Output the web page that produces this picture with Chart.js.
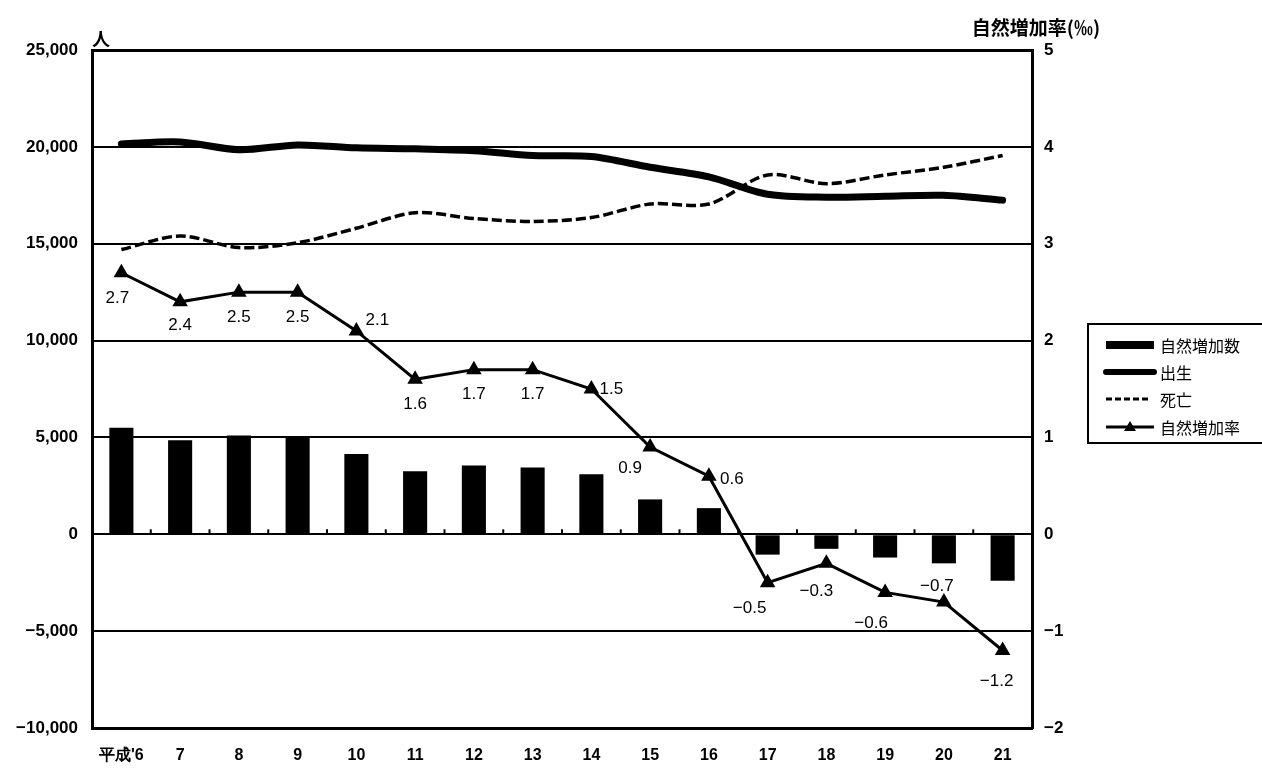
<!DOCTYPE html>
<html>
<head>
<meta charset="utf-8">
<script src="https://cdn.jsdelivr.net/npm/chart.js@4.4.1/dist/chart.umd.min.js"></script>
<style>
  html, body { margin: 0; padding: 0; background: #fff; }
  #wrap { width: 1262px; height: 769px; }
</style>
</head>
<body>
<div id="wrap"><canvas id="c" width="1262" height="769"></canvas></div>
<script>
// 年次（平成）
const years = ["平成'6", "7", "8", "9", "10", "11", "12", "13", "14", "15", "16", "17", "18", "19", "20", "21"];
// 自然増加数（人）
const naturalIncrease = [5500, 4850, 5100, 5050, 4150, 3250, 3550, 3450, 3100, 1800, 1350, -1050, -750, -1200, -1500, -2400];
// 出生（人）
const births = [20150, 20250, 19850, 20100, 19950, 19900, 19800, 19550, 19500, 18950, 18450, 17550, 17400, 17450, 17500, 17250];
// 死亡（人）
const deaths = [14700, 15400, 14800, 15050, 15800, 16600, 16300, 16150, 16350, 17050, 17050, 18550, 18100, 18550, 18950, 19550];
// 自然増加率（‰）
const naturalRate = [2.7, 2.4, 2.5, 2.5, 2.1, 1.6, 1.7, 1.7, 1.5, 0.9, 0.6, -0.5, -0.3, -0.6, -0.7, -1.2];
// 左軸・右軸の目盛
const leftTicks = [25000, 20000, 15000, 10000, 5000, 0, -5000, -10000];
const rightTicks = [5, 4, 3, 2, 1, 0, -1, -2];

// 率ラベルの置き場所（点からのずれ, px）
const rateLabelShift = [
  [-4, 26], [0, 23], [0, 25], [0, 25], [21, -11], [0, 25], [0, 25], [0, 25],
  [20, 0], [-20, 21], [23, 3], [-18, 26], [-10, 28], [-14, 31], [-7, -16], [-6, 31]
];

const minus = s => String(s).replace('-', '\u2212');
const fmtPeople = v => minus(Number(v).toLocaleString('en-US'));

const numFont = "'Liberation Sans', Arial, sans-serif";
const jpFont = "'Noto Sans CJK JP', sans-serif";

// 値ラベル・ゼロ線の目盛・凡例・軸見出しを描くプラグイン
const decorations = {
  id: 'decorations',
  afterDatasetsDraw(chart) {
    const ctx = chart.ctx;
    const x = chart.scales.x;
    const y = chart.scales.y;
    const zeroY = y.getPixelForValue(0);
    // ゼロ線上の区切り目盛
    ctx.save();
    ctx.strokeStyle = '#000';
    ctx.lineWidth = 2;
    for (let i = 1; i < years.length; i++) {
      const px = (x.getPixelForValue(i - 1) + x.getPixelForValue(i)) / 2;
      ctx.beginPath();
      ctx.moveTo(px, zeroY);
      ctx.lineTo(px, zeroY - 5);
      ctx.stroke();
    }
    ctx.restore();

    // 自然増加率の値ラベル
    const meta = chart.getDatasetMeta(3);
    ctx.save();
    ctx.fillStyle = '#000';
    ctx.font = "17px " + numFont;
    ctx.textAlign = 'center';
    ctx.textBaseline = 'middle';
    meta.data.forEach((pt, i) => {
      const [dx, dy] = rateLabelShift[i];
      ctx.fillText(minus(naturalRate[i].toFixed(1)), pt.x + dx, pt.y + dy);
    });
    ctx.restore();
  },
  afterDraw(chart) {
    const ctx = chart.ctx;
    const area = chart.chartArea;
    ctx.save();
    ctx.fillStyle = '#000';
    // 軸見出し
    ctx.font = "bold 18px " + jpFont;
    ctx.textAlign = 'center';
    ctx.textBaseline = 'middle';
    ctx.fillText('人', area.left + 9, area.top - 11);
    ctx.font = "bold 19px " + jpFont;
    ctx.fillText('自然増加率(‰)', area.right + 4, 28);

    // 凡例
    const lx = 1088, ly = 324, lw = 190, lh = 119;
    ctx.strokeStyle = '#000';
    ctx.lineWidth = 2;
    ctx.strokeRect(lx, ly, lw, lh);
    const rows = [345, 372, 399, 427];
    const sx0 = 1106, sx1 = 1154;
    ctx.font = "16px " + jpFont;
    ctx.textAlign = 'left';
    chart.data.datasets.forEach((ds, i) => {
      const ry = rows[i];
      ctx.save();
      if (i === 0) {
        ctx.fillRect(sx0, ry - 4, sx1 - sx0, 8);
      } else if (i === 1) {
        ctx.lineWidth = 6;
        ctx.lineCap = 'round';
        ctx.beginPath(); ctx.moveTo(sx0, ry); ctx.lineTo(sx1, ry); ctx.stroke();
      } else if (i === 2) {
        ctx.lineWidth = 3;
        ctx.setLineDash([6, 3]);
        ctx.beginPath(); ctx.moveTo(sx0, ry); ctx.lineTo(sx1 - 4, ry); ctx.stroke();
      } else {
        ctx.lineWidth = 3;
        ctx.beginPath(); ctx.moveTo(sx0, ry); ctx.lineTo(sx1, ry); ctx.stroke();
        const cx = (sx0 + sx1) / 2;
        ctx.beginPath();
        ctx.moveTo(cx, ry - 6); ctx.lineTo(cx + 6, ry + 4); ctx.lineTo(cx - 6, ry + 4);
        ctx.closePath(); ctx.fill();
      }
      ctx.restore();
      ctx.fillText(ds.label, 1160, ry + 1);
    });
    ctx.restore();
  }
};

new Chart(document.getElementById('c'), {
  data: {
    labels: years,
    datasets: [
      {
        type: 'bar', label: '自然増加数', data: naturalIncrease, yAxisID: 'y',
        backgroundColor: '#000', borderWidth: 0,
        barPercentage: 0.41, categoryPercentage: 1, order: 4
      },
      {
        type: 'line', label: '出生', data: births, yAxisID: 'y',
        borderColor: '#000', borderWidth: 7, pointRadius: 0, tension: 0.3,
        borderCapStyle: 'round', order: 2
      },
      {
        type: 'line', label: '死亡', data: deaths, yAxisID: 'y',
        borderColor: '#000', borderWidth: 3.5, borderDash: [10, 4], pointRadius: 0, tension: 0.3,
        order: 3
      },
      {
        type: 'line', label: '自然増加率', data: naturalRate, yAxisID: 'y1',
        borderColor: '#000', borderWidth: 3, tension: 0,
        pointStyle: 'triangle', pointRadius: 6, pointBackgroundColor: '#000', pointBorderColor: '#000',
        order: 1
      }
    ]
  },
  options: {
    responsive: false,
    animation: false,
    devicePixelRatio: 1,
    layout: { padding: { top: 50, left: 0, right: 0, bottom: 0 } },
    plugins: { legend: { display: false }, tooltip: { enabled: false } },
    scales: {
      x: {
        type: 'category',
        offset: true,
        grid: { display: false, drawTicks: false },
        border: { display: true, color: '#000', width: 3 },
        ticks: {
          color: '#000', font: { family: numFont, size: 16, weight: 'bold' },
          padding: 18, maxRotation: 0, autoSkip: false
        },
        afterFit(s) { s.height = 41; }
      },
      y: {
        position: 'left',
        min: -10000, max: 25000,
        afterBuildTicks(s) { s.ticks = leftTicks.map(v => ({ value: v })); },
        grid: {
          color: '#000', drawTicks: false,
          lineWidth: c => (c.tick && c.tick.value === 25000) ? 3 : 2
        },
        border: { display: true, color: '#000', width: 3 },
        ticks: {
          color: '#000', font: { family: numFont, size: 17, weight: 'bold' },
          padding: 14, callback: v => fmtPeople(v)
        },
        afterFit(s) { s.width = 92; }
      },
      y1: {
        position: 'right',
        min: -2, max: 5,
        afterBuildTicks(s) { s.ticks = rightTicks.map(v => ({ value: v })); },
        grid: { display: false, drawTicks: false },
        border: { display: true, color: '#000', width: 3 },
        ticks: {
          color: '#000', font: { family: numFont, size: 17, weight: 'bold' },
          padding: 12, callback: v => minus(v)
        },
        afterFit(s) { s.width = 230; }
      }
    }
  },
  plugins: [decorations]
});
</script>
</body>
</html>
